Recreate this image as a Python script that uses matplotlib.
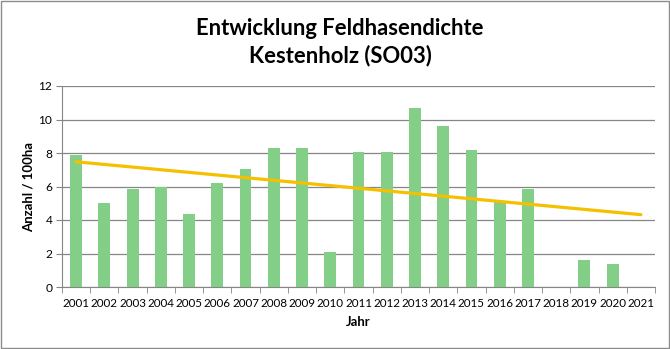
import numpy as np
import matplotlib
matplotlib.use("Agg")
from matplotlib import pyplot as plt
from matplotlib.patches import Rectangle

plt.rcParams['font.family'] = ['Lato', 'DejaVu Sans']

# Data
years = list(range(2001, 2022))
density = [7.88, 5.0, 5.85, 6.0, 4.36, 6.2, 7.04, 8.3, 8.3, 2.09, 8.04,
           8.04, 10.69, 9.61, 8.18, 5.1, 5.85, 0.0, 1.61, 1.37, None]
title = "Entwicklung Feldhasendichte\nKestenholz (SO03)"

x = np.arange(len(years))
heights = [v if v is not None else 0 for v in density]

# Linear trend (Excel style) fitted on the counted years, extended one period
known = [i for i, v in enumerate(density) if v is not None]
coef = np.polyfit(x[known], [density[i] for i in known], 1)
trend = np.polyval(coef, x)

fig = plt.figure(figsize=(6.7, 3.49), dpi=100)
ax = fig.add_axes([62 / 670, 1 - 287 / 349, 593 / 670, 201 / 349])

ax.bar(x, heights, width=0.42, color='#84cf87', zorder=2)
ax.plot(x, trend, color='#f5c000', lw=2.3, zorder=3, solid_capstyle='round')

ax.set_xlim(-0.5, len(years) - 0.5)
ax.set_ylim(0, 12)
ax.set_yticks(range(0, 13, 2))
ax.set_xticks(x)
ax.set_xticklabels([str(y) for y in years])
ax.set_xticks(np.arange(-0.5, len(years), 1), minor=True)
ax.tick_params(axis='x', which='major', length=0, pad=8, labelsize=8.4)
ax.tick_params(axis='x', which='minor', length=4, color='#868686', direction='out')
ax.tick_params(axis='y', length=4, color='#868686', labelsize=8.6, pad=3)
ax.grid(axis='y', color='#868686', lw=0.9, zorder=1)

for s in ['top', 'right']:
    ax.spines[s].set_visible(False)
for s in ['left', 'bottom']:
    ax.spines[s].set_color('#868686')

ax.set_xlabel('Jahr', fontsize=9.5, fontweight='bold', labelpad=5)
ax.set_ylabel('Anzahl / 100ha', fontsize=9.5, fontweight='bold', labelpad=3)

fig.text(340 / 670, 1 - 42 / 349, title, ha='center', va='center',
         fontsize=15.8, fontweight='bold', linespacing=1.3)

fig.patches.append(Rectangle((0.001, 0.002), 0.997, 0.995, transform=fig.transFigure,
                             fill=False, edgecolor='#8c8c8c', lw=1))

plt.savefig('out.png', dpi=100)
